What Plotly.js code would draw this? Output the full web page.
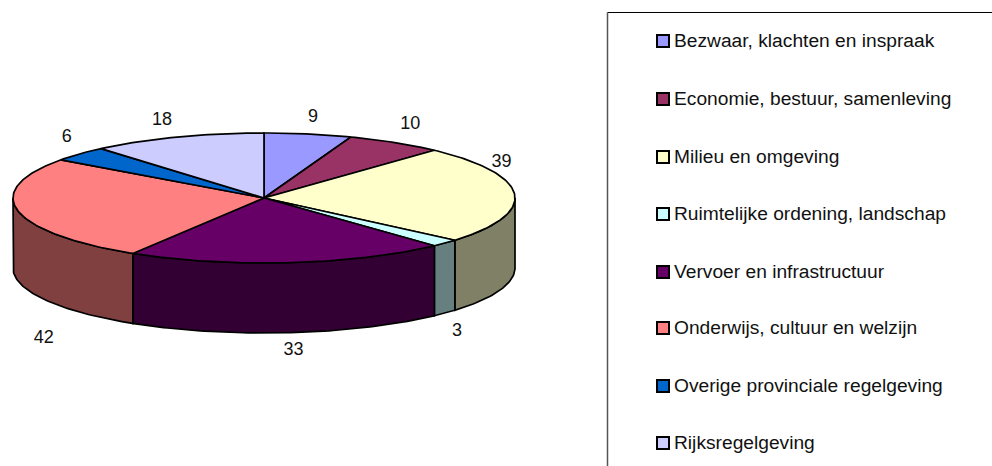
<!DOCTYPE html>
<html><head><meta charset="utf-8">
<script src="https://cdn.plot.ly/plotly-3.0.1.min.js"></script>
<style>html,body{margin:0;padding:0;background:#fff;overflow:hidden}</style></head>
<body><div id="chart" style="width:992px;height:466px"></div>
<script>
const categories = ["Bezwaar, klachten en inspraak","Economie, bestuur, samenleving","Milieu en omgeving","Ruimtelijke ordening, landschap","Vervoer en infrastructuur","Onderwijs, cultuur en welzijn","Overige provinciale regelgeving","Rijksregelgeving"];
const values = [9,10,39,3,33,42,6,18];
const topColors = ["#9999FF","#993366","#FFFFCC","#CCFFFF","#660066","#FF8080","#0066CC","#CCCCFF"];
const sideColors = ["#4D4D80","#4D1A33","#808066","#668080","#330033","#804040","#003366","#666680"];

// pie geometry, in chart pixels
const cx = 264, cy = 198, rx = 251, ry = 65, depth = 70;
// label offsets from each slice's rim mid-point, in chart pixels
const labelNudgeX = [5,15,-13,12,5,26,-13,-15];
const labelNudgeY = [-17,-18,-32,88,88,128,-16,-17];
// legend layout
const legendX = 663, legendTextGap = 11, legendRowY = [41,99,157,214,272,328,386,443];

const total = values.reduce((a,b)=>a+b,0);
const rad = d => d*Math.PI/180;
const px = t => cx + rx*Math.sin(rad(t));
const py = t => cy - ry*Math.cos(rad(t));
function arc(a,b){ const ts=[]; const n=Math.max(2,Math.ceil(Math.abs(b-a))); for(let i=0;i<=n;i++) ts.push(a+(b-a)*i/n); return ts; }

let cum = 0;
const slices = values.map(v => { const s = {a:cum/total*360, b:(cum+v)/total*360}; cum += v; return s; });
const line = {color:"#000", width:1.7};
const traces = [];

// side walls (only the front half of the rim, 90..270 degrees)
slices.forEach((s,i) => {
  const a = Math.max(s.a,90), b = Math.min(s.b,270);
  if (b <= a) return;
  const ts = arc(a,b);
  const x = ts.map(px).concat(ts.slice().reverse().map(px));
  const y = ts.map(t=>py(t)).concat(ts.slice().reverse().map(t=>py(t)+depth));
  x.push(x[0]); y.push(y[0]);
  traces.push({type:"scatter",mode:"lines",x,y,fill:"toself",fillcolor:sideColors[i],line,hoverinfo:"skip",name:categories[i]});
});
// top faces
slices.forEach((s,i) => {
  const ts = arc(s.a,s.b);
  const x = [cx].concat(ts.map(px),[cx]);
  const y = [cy].concat(ts.map(py),[cy]);
  traces.push({type:"scatter",mode:"lines",x,y,fill:"toself",fillcolor:topColors[i],line,hoverinfo:"skip",name:categories[i]});
});
// value labels
traces.push({type:"scatter",mode:"text",
  x:slices.map((s,i)=>px((s.a+s.b)/2)+labelNudgeX[i]),
  y:slices.map((s,i)=>py((s.a+s.b)/2)+labelNudgeY[i]),
  text:values.map(String),textposition:"middle center",
  textfont:{family:"Liberation Sans, Arial, sans-serif",size:18,color:"#111"},hoverinfo:"skip"});
// legend swatches
traces.push({type:"scatter",mode:"markers",
  x:legendRowY.map(()=>legendX),y:legendRowY,
  marker:{symbol:"square",size:12,color:topColors,line:{color:"#000",width:2}},hoverinfo:"skip"});
// legend texts
traces.push({type:"scatter",mode:"text",
  x:legendRowY.map(()=>legendX+legendTextGap),y:legendRowY.map(y=>y+1),text:categories,textposition:"middle right",
  textfont:{family:"Liberation Sans, Arial, sans-serif",size:19.2,color:"#111"},hoverinfo:"skip"});

const layout = {
  width:992,height:466,margin:{l:0,r:0,t:0,b:0},
  paper_bgcolor:"#fff",plot_bgcolor:"#fff",showlegend:false,
  xaxis:{range:[0,992],visible:false,fixedrange:true},
  yaxis:{range:[466,0],visible:false,fixedrange:true},
  shapes:[
    {type:"line",xref:"x",yref:"y",x0:607.5,x1:992,y0:12.5,y1:12.5,line:{color:"#000",width:1}},
    {type:"line",xref:"x",yref:"y",x0:607.5,x1:607.5,y0:12.5,y1:466,line:{color:"#555",width:1.5}}
  ]
};
Plotly.newPlot("chart",traces,layout,{staticPlot:true,displayModeBar:false});
</script></body></html>
